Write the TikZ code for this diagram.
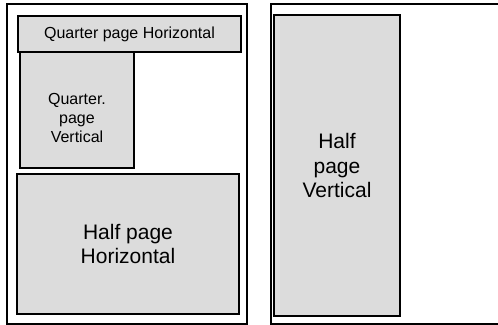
\documentclass[tikz,border=0pt]{standalone}
\usepackage{fontspec}
\setmainfont{Liberation Sans}
\usetikzlibrary{positioning}
\definecolor{adgray}{RGB}{220,220,220}

\begin{document}
\begin{tikzpicture}[x=1pt,y=-1pt]

  \tikzstyle{page} = [draw,line width=1.6pt]
  \tikzstyle{ad} = [draw,fill=adgray,line width=1.6pt,inner sep=0pt,align=center]
  \tikzstyle{small} = [font=\fontsize{16}{19}\selectfont]
  \tikzstyle{big} = [font=\fontsize{21}{24.5}\selectfont]

  \useasboundingbox (0,0) rectangle (498,324);
  \clip (0,0) rectangle (498,324);

  % the two pages
  \draw[page] (7,4) rectangle (247,324);
  \draw[page] (271,4) rectangle (520,324);

  % left page
  \node[ad,minimum width=114pt,minimum height=116pt] (qv) at (77,110) {};
  \node[small,align=center] (qvtext) at (77,118) {Quarter.\\page\\Vertical};
  \node[ad,small,minimum width=223pt,minimum height=36pt] (qh) at (129.5,34) {Quarter page Horizontal};
  \node[ad,big,minimum width=222pt,minimum height=140pt] (hh) at (128,244) {Half page\\Horizontal};

  % right page
  \node[ad,big,minimum width=126pt,minimum height=301pt] (hv) at (337,165.5) {Half\\page\\Vertical};

\end{tikzpicture}
\end{document}
